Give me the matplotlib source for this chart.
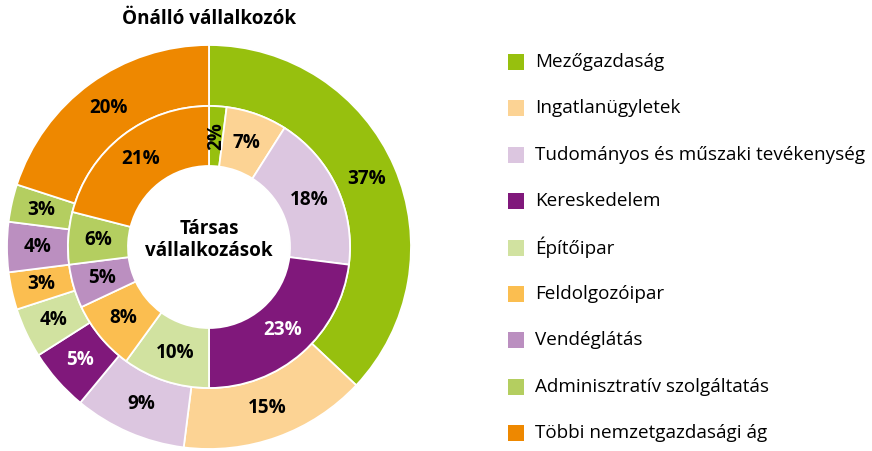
import matplotlib.pyplot as plt
import numpy as np

plt.rcParams['font.family'] = ['Open Sans', 'DejaVu Sans']

# categories (legend order, clockwise from 12 o'clock)
categories = ['Mezőgazdaság', 'Ingatlanügyletek', 'Tudományos és műszaki tevékenység',
              'Kereskedelem', 'Építőipar', 'Feldolgozóipar', 'Vendéglátás',
              'Adminisztratív szolgáltatás', 'Többi nemzetgazdasági ág']
onallo = [37, 15, 9, 5, 4, 3, 4, 3, 20]      # outer ring
tarsas = [2, 7, 18, 23, 10, 8, 5, 6, 21]     # inner ring
colors = ['#97C00E', '#FCD394', '#DCC6E0', '#80187B', '#D1E2A0',
          '#FBBE50', '#BB8FC0', '#B4CE60', '#EE8800']

W, H = 872, 451
fig = plt.figure(figsize=(W / 100, H / 100), dpi=100)
ax = fig.add_axes([0, 0, 1, 1])

cx, cy = 209, H - 247
r_out, r_mid, r_in = 202, 141, 81
FS = 13.6

wedge_kw = dict(edgecolor='white', linewidth=1.3)

def ring(values, radius, width, fontsize=FS):
    wedges, _ = ax.pie(values, colors=colors, radius=radius, center=(cx, cy),
                       startangle=90, counterclock=False,
                       wedgeprops=dict(width=width, **wedge_kw))
    rl = radius - width / 2
    for w, v, c in zip(wedges, values, colors):
        ang = np.deg2rad((w.theta1 + w.theta2) / 2)
        x = cx + rl * np.cos(ang)
        y = cy + rl * np.sin(ang)
        txt_color = 'white' if c == '#80187B' else 'black'
        rot = 90 if v <= 2 else 0
        ax.text(x, y, f'{v}%', ha='center', va='center', fontsize=fontsize,
                fontweight='bold', color=txt_color, rotation=rot)

ring(onallo, r_out, r_out - r_mid)
ring(tarsas, r_mid, r_mid - r_in)

ax.text(cx, H - 19, 'Önálló vállalkozók', ha='center', va='center',
        fontsize=FS, fontweight='bold')
ax.text(cx, H - 240, 'Társas\nvállalkozások', ha='center', va='center',
        fontsize=FS, fontweight='bold', linespacing=1.2)

# legend
leg_y0, leg_dy = 62, 46.4
for i, (cat, c) in enumerate(zip(categories, colors)):
    y = H - (leg_y0 + i * leg_dy)
    ax.add_patch(plt.Rectangle((508, y - 8), 16, 16, facecolor=c, edgecolor='none'))
    ax.text(535, y, cat, ha='left', va='center', fontsize=FS)

ax.set_xlim(0, W)
ax.set_ylim(0, H)
ax.set_aspect('equal')
ax.axis('off')

fig.savefig('out.png', dpi=100)
